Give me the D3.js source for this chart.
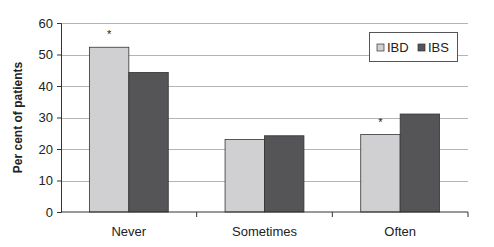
<!DOCTYPE html>
<html>
<head>
<meta charset="utf-8">
<script src="https://cdn.jsdelivr.net/npm/d3@7"></script>
<style>
  body { margin: 0; background: #fff; }
  text { font-family: "Liberation Sans", Arial, sans-serif; fill: #222; }
</style>
</head>
<body>
<div id="app"></div>
<script>
const categories = ["Never", "Sometimes", "Often"];
const groups = ["IBD", "IBS"];
const ibdValues = [52.3, 23.0, 24.6];
const ibsValues = [44.3, 24.2, 31.1];
const significant = [true, false, true]; // asterisk above IBD bar
const yTicks = [0, 10, 20, 30, 40, 50, 60];

const width = 494;
const height = 247;
const margin = { top: 23, right: 26, bottom: 35, left: 61 };
const colors = { IBD: "#d0d0d2", IBS: "#555557" };

const svg = d3.select("#app").append("svg")
  .attr("width", width).attr("height", height);

const x = d3.scaleBand()
  .domain(categories)
  .range([margin.left, width - margin.right]);

const x1 = d3.scaleBand()
  .domain(groups)
  .range([0, x.bandwidth()])
  .paddingInner(0)
  .paddingOuter(0.72);

const y = d3.scaleLinear()
  .domain([0, 60])
  .range([height - margin.bottom, margin.top]);

// gridlines
svg.append("g")
  .selectAll("line")
  .data(yTicks.filter(d => d > 0))
  .join("line")
  .attr("x1", margin.left)
  .attr("x2", width - margin.right)
  .attr("y1", d => Math.round(y(d)) + 0.5)
  .attr("y2", d => Math.round(y(d)) + 0.5)
  .attr("stroke", "#b4b4b4")
  .attr("stroke-width", 1.2);

const data = categories.map((c, i) => ({
  cat: c,
  vals: [{ g: "IBD", v: ibdValues[i] }, { g: "IBS", v: ibsValues[i] }],
  sig: significant[i]
}));

const cg = svg.append("g").selectAll("g")
  .data(data)
  .join("g")
  .attr("transform", d => `translate(${x(d.cat)},0)`);

cg.selectAll("rect")
  .data(d => d.vals)
  .join("rect")
  .attr("x", d => x1(d.g))
  .attr("width", x1.bandwidth())
  .attr("y", d => y(d.v))
  .attr("height", d => y(0) - y(d.v))
  .attr("fill", d => colors[d.g])
  .attr("stroke", "#333")
  .attr("stroke-width", 0.8);

cg.filter(d => d.sig)
  .append("text")
  .attr("x", x1("IBD") + x1.bandwidth() / 2)
  .attr("y", d => y(d.vals[0].v) - 9)
  .attr("text-anchor", "middle")
  .style("font-size", "11px")
  .text("*");

// y axis
const yAxis = svg.append("g")
  .attr("transform", `translate(${margin.left},0)`)
  .call(d3.axisLeft(y).tickValues(yTicks).tickSize(4).tickPadding(4));
yAxis.selectAll("text").style("font-size", "13px").attr("fill", "#222");
yAxis.selectAll("line, path").attr("stroke", "#333");

// x axis
const xAxisG = svg.append("g")
  .attr("transform", `translate(0,${y(0)})`);
xAxisG.append("line")
  .attr("x1", margin.left).attr("x2", width - margin.right)
  .attr("stroke", "#333");
xAxisG.selectAll(".tk")
  .data(categories)
  .join("line")
  .attr("class", "tk")
  .attr("x1", d => x(d) + x.bandwidth())
  .attr("x2", d => x(d) + x.bandwidth())
  .attr("y1", 0).attr("y2", 5)
  .attr("stroke", "#333");
xAxisG.selectAll("text")
  .data(categories)
  .join("text")
  .attr("x", d => x(d) + x.bandwidth() / 2)
  .attr("y", 24)
  .attr("text-anchor", "middle")
  .style("font-size", "13px")
  .text(d => d);

// y title
svg.append("text")
  .attr("transform", `translate(22,${(y(0) + y(60)) / 2}) rotate(-90)`)
  .attr("text-anchor", "middle")
  .style("font-size", "12px")
  .style("font-weight", "bold")
  .text("Per cent of patients");

// legend
const lg = svg.append("g").attr("transform", "translate(369,32)");
lg.append("rect")
  .attr("x", 0.5).attr("y", 0.5)
  .attr("width", 88).attr("height", 29)
  .attr("fill", "#fff").attr("stroke", "#555");
const li = lg.selectAll("g.it")
  .data(groups)
  .join("g")
  .attr("class", "it")
  .attr("transform", (d, i) => `translate(${8 + i * 41},0)`);
li.append("rect")
  .attr("x", 0).attr("y", 12)
  .attr("width", 7).attr("height", 7)
  .attr("fill", d => colors[d])
  .attr("stroke", "#333").attr("stroke-width", 0.7);
li.append("text")
  .attr("x", 10).attr("y", 19.5)
  .style("font-size", "13px")
  .text(d => d);
</script>
</body>
</html>
